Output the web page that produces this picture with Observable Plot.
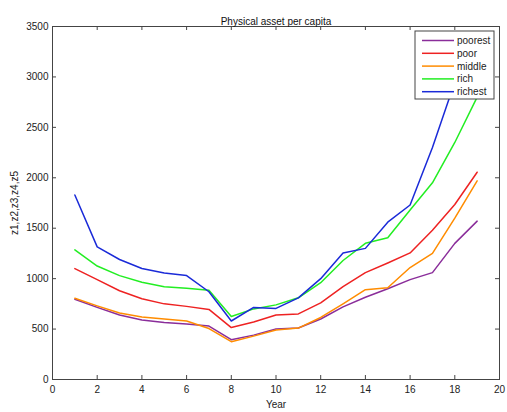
<!DOCTYPE html>
<html><head><meta charset="utf-8">
<script src="https://cdn.jsdelivr.net/npm/d3@7"></script>
<script src="https://cdn.jsdelivr.net/npm/@observablehq/plot@0.6"></script>
<style>body{margin:0;background:#fff;} #chart{position:relative;width:507px;height:412px;}</style>
</head><body><div id="chart"></div>
<script>
const years = [1,2,3,4,5,6,7,8,9,10,11,12,13,14,15,16,17,18,19];
const seriesNames = ["poorest","poor","middle","rich","richest"];
const seriesColors = ["#8a2d9a","#ee2222","#ff8c00","#22ee22","#1a2ad8"];
const poorest = [795,715,640,590,565,550,530,395,440,500,510,600,720,815,900,990,1060,1350,1570];
const poor    = [1100,990,880,800,750,725,695,515,570,640,650,760,920,1060,1155,1255,1480,1735,2055];
const middle  = [805,730,660,620,600,580,505,375,430,490,510,615,750,890,910,1110,1250,1600,1970];
const rich    = [1285,1125,1030,965,920,905,885,625,700,740,810,960,1180,1350,1405,1680,1950,2350,2800];
const richest = [1830,1315,1190,1100,1055,1030,870,580,715,705,810,1000,1255,1300,1560,1730,2300,2950,3400];
const xTicks = [0,2,4,6,8,10,12,14,16,18,20];
const yTicks = [0,500,1000,1500,2000,2500,3000,3500];
const titleText = "Physical asset per capita";
const xLabel = "Year";
const yLabel = "z1,z2,z3,z4,z5";

const allSeries = [poorest, poor, middle, rich, richest];
const data = [];
allSeries.forEach((vals, i) => vals.forEach((v, j) => data.push({series: seriesNames[i], year: years[j], value: v})));

const W = 507, H = 412, mL = 52, mR = 8, mT = 26, mB = 33, tk = 4;
const fw = W - mL - mR, fh = H - mT - mB;
const font = "'Liberation Sans', Arial, sans-serif";
const chart = Plot.plot({
  width: W, height: H,
  marginLeft: mL, marginRight: mR, marginTop: mT, marginBottom: mB,
  style: {fontFamily: font, fontSize: "10px", background: "white", color: "#222", overflow: "visible"},
  x: {domain: [0, 20]},
  y: {domain: [0, 3500]},
  color: {domain: seriesNames, range: seriesColors},
  marks: [
    Plot.frame({stroke: "#444", strokeWidth: 1}),
    Plot.axisX({ticks: xTicks, tickSize: 0, tickPadding: 6, tickFormat: d => String(d), label: xLabel, labelAnchor: "center", labelArrow: "none", labelOffset: 28, fontSize: 10}),
    Plot.axisY({ticks: yTicks, tickSize: 0, tickPadding: 4, tickFormat: d => String(d), label: yLabel, labelAnchor: "center", labelArrow: "none", labelOffset: 42, fontSize: 10}),
    Plot.tickX(xTicks, {x: d => d, insetTop: fh - tk, stroke: "#444"}),
    Plot.tickX(xTicks, {x: d => d, insetBottom: fh - tk, stroke: "#444"}),
    Plot.tickY(yTicks, {y: d => d, insetRight: fw - tk, stroke: "#444"}),
    Plot.tickY(yTicks, {y: d => d, insetLeft: fw - tk, stroke: "#444"}),
    Plot.line(data, {x: "year", y: "value", stroke: "series", z: "series", strokeWidth: 1.5}),
    Plot.text([titleText], {text: d => d, frameAnchor: "top", dy: -9, fontSize: 10, fill: "#111"})
  ]
});
document.getElementById("chart").appendChild(chart);

// legend box
const svg = d3.select(chart);
const lg = svg.append("g").attr("transform", "translate(415,31)");
lg.append("rect").attr("width", 79).attr("height", 68).attr("fill", "white").attr("stroke", "#444");
seriesNames.forEach((name, i) => {
  const y = 9.5 + i * 12.8;
  lg.append("line").attr("x1", 7).attr("x2", 39).attr("y1", y).attr("y2", y)
    .attr("stroke", seriesColors[i]).attr("stroke-width", 1.5);
  lg.append("text").attr("x", 42).attr("y", y).attr("dy", "0.35em").attr("text-anchor", "start")
    .attr("font-family", font).attr("font-size", 10).attr("fill", "#222").text(name);
});
</script>
</body></html>
